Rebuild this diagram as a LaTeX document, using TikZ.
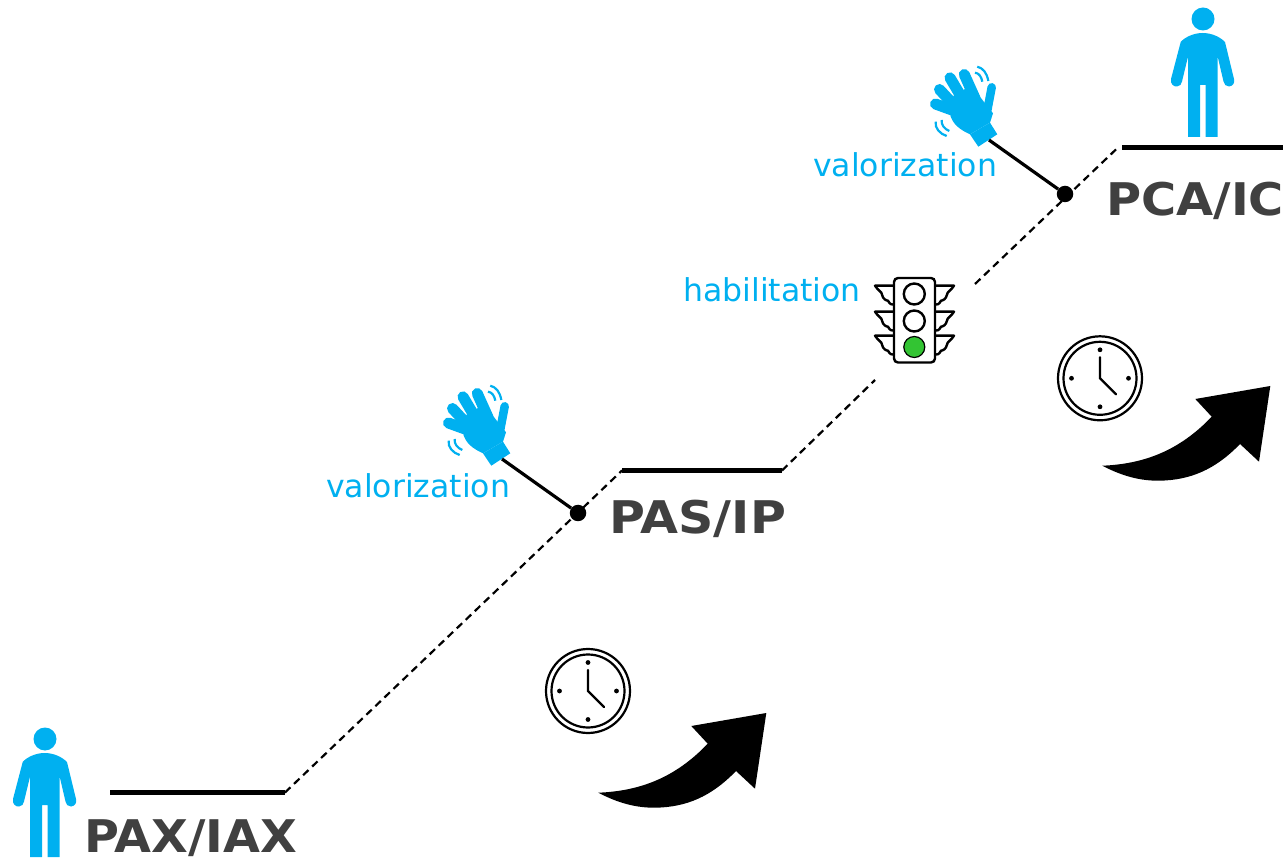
\documentclass[tikz,border=0pt]{standalone}
\usepackage{fontspec}
\setmainfont{DejaVu Sans}
\definecolor{skyb}{HTML}{00B0F0}
\definecolor{darkg}{HTML}{404040}
\definecolor{lightg}{HTML}{33C433}
\tikzset{
  x=1pt,y=-1pt,
  levelline/.style={line width=4.4pt,black},
  dashlink/.style={line width=2.2pt,black,dash pattern=on 7.5pt off 5pt},
  stem/.style={line width=3.2pt,black},
  joint/.style={circle,fill=black,inner sep=0pt,minimum size=16.5pt},
  levellabel/.style={font=\bfseries\fontsize{45}{45}\selectfont,text=darkg,inner sep=0pt,anchor=base west},
  bluelabel/.style={font=\fontsize{31.5}{31.5}\selectfont,text=skyb,inner sep=0pt,anchor=base west},
  person/.pic={
    \fill[skyb] (0,0) circle (11.5);
    \fill[skyb] (-.5,14) .. controls (-9,14) and (-18,18) .. (-22.3,23) -- (-32,60)
      .. controls (-33,65) and (-29,68) .. (-26,67.5) .. controls (-23,67.5) and (-21.5,65) .. (-21,62.5) -- (-15,37.7)
      -- (-15,118) -- (-3,118) -- (-3,66) -- (2.7,66) -- (2.7,118) -- (14.7,118) -- (14.7,37.7)
      -- (20.5,62.5) .. controls (21,65) and (23,68) .. (26,67.5) .. controls (30,67) and (32,64) .. (31,60) -- (22,23)
      .. controls (17,18) and (9,14) .. (-.5,14) -- cycle;
  },
  hand/.pic={
    \fill[skyb] (970,134.3) -- (978.3,146.7) -- (997.3,134.3) -- (990,122.7) -- cycle;
    \fill[skyb] (948,103) -- (950.7,116.7) .. controls (953,123) and (958,129) .. (970,134.3)
      -- (990,122.7) -- (993,113.3) -- (981.7,99) -- (973,87) -- (965,89) -- (955,94) -- cycle;
    \draw[skyb,line width=8.5pt,line cap=round] (987,112) -- (991.7,87.3);
    \draw[skyb,line width=11pt,line cap=round] (975,98.3) -- (964.3,74.5);
    \draw[skyb,line width=11pt,line cap=round] (962,98) -- (950,77.8);
    \draw[skyb,line width=11pt,line cap=round] (952,103) -- (939.5,89.5);
    \draw[skyb,line width=11pt,line cap=round] (952,110) -- (935.5,104);
    \draw[skyb,line width=2.2pt] (977.3,66.7) .. controls (983,68) and (987,73) .. (988.3,81);
    \draw[skyb,line width=2.2pt] (975,72.7) .. controls (979,73) and (981.5,77) .. (982.3,81.7);
    \draw[skyb,line width=2.2pt] (935.7,121.7) .. controls (934.5,128) and (940,134) .. (946.7,136);
    \draw[skyb,line width=2.2pt] (941.7,120) .. controls (941,125) and (944.5,129) .. (949.3,131);
  },
  clockface/.pic={
    \draw[line width=2.2pt] (0,0) circle (42);
    \draw[line width=2.2pt] (0,0) circle (36.5);
    \foreach \a in {0,90,180,270} \fill (\a:28.5) circle (2.4);
    \draw[line width=2.2pt,line cap=round] (0,-21) -- (0,0) -- (16,16);
  },
  bigarrow/.pic={
    \fill[black] (1270.3,386) -- (1195.3,399) -- (1211.7,416.7)
      .. controls (1180,450) and (1145,464) .. (1102.3,465.7)
      .. controls (1122,476) and (1140,481) .. (1160,480.7)
      .. controls (1190,480) and (1215,470) .. (1240,444)
      -- (1259,461.7) -- cycle;
  },
  wing/.pic={
    \draw[line width=2.4pt,line join=round,fill=white] (0,0) -- (-19,0) .. controls (-16,5) and (-12,6) .. (-12,9)
       .. controls (-11,14) and (-7,15) .. (-6,15) .. controls (-4,19) and (-2,19) .. (0,19);
  }
}
\begin{document}
\begin{tikzpicture}
\useasboundingbox (0,0) rectangle (1286,858);

% levels
\coordinate (a1) at (110,792.5);  \coordinate (a2) at (285,792.5);
\coordinate (b1) at (622,470.5);  \coordinate (b2) at (782,470.5);
\coordinate (b3) at (875,380);  \coordinate (c0) at (975,284);
\coordinate (c1) at (1118,147.5); \coordinate (c2) at (1122,147.5);
\coordinate (c3) at (1283,147.5);
\draw[levelline] (a1) -- (a2);
\draw[levelline] (b1) -- (b2);
\draw[levelline] (c2) -- (c3);
\draw[dashlink] (a2) -- (b1);
\draw[dashlink] (b2) -- (b3);
\draw[dashlink] (c0) -- (c1);

% persons
\pic at (1203,19) {person};
\pic at (45,739) {person};

% hands and joints
\pic at (0,0) {hand};
\pic at (-487,319) {hand};
\node[joint] (j2) at (1065,194) {};
\node[joint] (j1) at (578,513) {};
\coordinate (h2) at (989,140);
\coordinate (h1) at (502,459);
\draw[stem] (h2) -- (j2);
\draw[stem] (h1) -- (j1);

% traffic light
\foreach \yy in {285.7,311.7,335.7}{
  \pic at (894,\yy) {wing};
  \pic[xscale=-1] at (935,\yy) {wing};
}
\draw[line width=2.4pt,fill=white,rounded corners=4pt] (894,278) rectangle (935,362.5);
\node[circle,draw,line width=2.4pt,minimum size=21pt,inner sep=0pt] (l1) at (914.3,294) {};
\node[circle,draw,line width=2.4pt,minimum size=21pt,inner sep=0pt] (l2) at (914.3,321) {};
\node[circle,draw,line width=1.2pt,fill=lightg,minimum size=21pt,inner sep=0pt] (l3) at (914.3,347) {};

% clocks
\pic at (1100,378.3) {clockface};
\pic at (588,691) {clockface};

% arrows
\pic at (0,0) {bigarrow};
\pic at (-504,327) {bigarrow};

% labels
\node[levellabel] (t1) at (84,852) {\scalebox{1.06}[1]{PAX/IAX}};
\node[levellabel] (t2) at (609,533.5) {\scalebox{1.09}[1]{PAS/IP}};
\node[levellabel] (t3) at (1106,215.5) {\scalebox{1.065}[1]{PCA/IC}};
\node[bluelabel] (v1) at (326,498) {valorization};
\node[bluelabel] (v2) at (813,177) {valorization};
\node[bluelabel] (v3) at (683,302) {habilitation};
\end{tikzpicture}
\end{document}
